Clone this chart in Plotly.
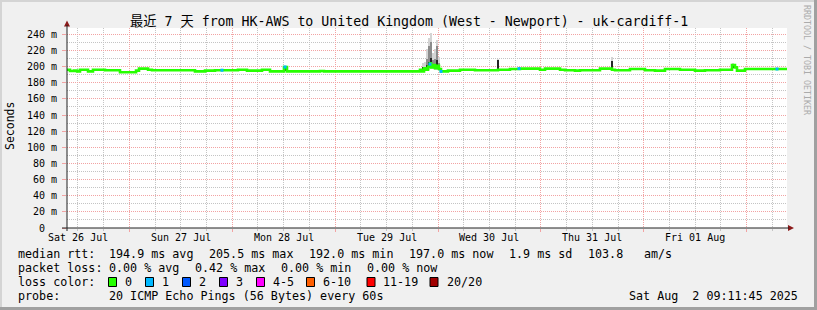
import plotly.graph_objects as go
import pandas as pd

# ---------------- data ----------------
START = pd.Timestamp("2025-07-26 09:28:00")
END = pd.Timestamp("2025-08-02 09:24:00")

# median RTT (ms) as steps: hours after START, value
median_hours = [0, 0.7, 1.63, 2.33, 3.03, 4.9, 6.06, 8.86, 12.36, 16.1, 16.79, 18.9, 19.83,
                29.85, 32.19, 34.52, 39.88, 41.98, 45.48, 47.35, 50.61, 51.31, 59.0, 59.94,
                82.33, 82.8, 83.27, 83.73, 84.2, 84.66, 84.9, 85.36, 85.83, 86.3, 86.76, 87.23,
                88.86, 91.66, 95.16, 100.52, 103.32, 105.66, 110.32, 111.49, 114.99, 116.15,
                118.48, 119.65, 124.31, 127.11, 127.81, 131.31, 134.81, 137.14, 139.47, 142.97,
                146.47, 148.8, 152.3, 155.1, 155.8, 156.27, 158.13, 167.93]
median_ms = [196, 194.5, 195, 194, 196, 194, 196, 195.5, 193, 195, 197.5, 196, 195.5,
             194, 195, 195.5, 196, 195, 196, 194, 199.5, 194, 194.5, 194,
             196, 194, 198, 196, 200, 204, 199, 202, 198, 201, 197, 194,
             195, 196, 195.5, 196, 197, 197.5, 196, 197.5, 196, 195.5,
             195, 195.5, 197.5, 196, 195.5, 197, 195.5, 195, 197, 196,
             195, 195.5, 196, 202, 199, 195, 197, 197]

# smoke (spread of the 20 pings), three shade layers: hours, low, high
smoke_light_hours = [83.03, 83.5, 83.97, 84.43, 84.9, 85.36, 85.83, 86.3, 86.76, 100.52, 127.11, 155.33]
smoke_light_lo = [195, 195, 196, 196, 197, 197, 196, 196, 195, 195, 197, 197]
smoke_light_hi = [205, 206, 222, 235, 241, 217, 222, 233, 212, 210, 212, 205]

smoke_mid_hours = [83.97, 84.43, 84.9, 85.36, 85.83, 86.3, 86.76]
smoke_mid_lo = [197, 198, 199, 199, 198, 198, 196]
smoke_mid_hi = [210, 225, 230, 208, 210, 225, 204]

smoke_dark_hours = [50.85, 83.03, 83.97, 84.43, 84.9, 85.36, 85.83, 86.3, 86.76, 100.52, 127.11, 155.33]
smoke_dark_lo = [194, 196, 197, 198, 199, 199, 198, 198, 196, 195, 196, 198]
smoke_dark_hi = [200, 199, 202, 206, 211, 203, 203, 208, 200, 208, 207, 202]

# points where 1 of 20 pings was lost
loss1_hours = [36.15, 50.85, 84.66, 87.23, 105.42, 165.6]
loss1_ms = [195.5, 199.5, 203, 194, 197.5, 197]

# axis labels
y_tick_vals = [0, 20, 40, 60, 80, 100, 120, 140, 160, 180, 200, 220, 240]
y_tick_text = ["0\u00a0\u00a0", "20 m", "40 m", "60 m", "80 m", "100 m", "120 m", "140 m",
               "160 m", "180 m", "200 m", "220 m", "240 m"]
day_label_times = ["2025-07-26 12:00", "2025-07-27 12:00", "2025-07-28 12:00", "2025-07-29 12:00",
                   "2025-07-30 12:00", "2025-07-31 12:00", "2025-08-01 12:00"]
day_labels = ["Sat 26 Jul", "Sun 27 Jul", "Mon 28 Jul", "Tue 29 Jul", "Wed 30 Jul", "Thu 31 Jul", "Fri 01 Aug"]

title_text = "最近 7 天 from HK-AWS to United Kingdom (West - Newport) - uk-cardiff-1"
rtt_stats = ["194.9 ms avg", "205.5 ms max", "192.0 ms min", "197.0 ms now", "1.9 ms sd", "103.8", "am/s"]
loss_stats = ["0.00 % avg", "0.42 % max", "0.00 % min", "0.00 % now"]
loss_labels = ["0", "1", "2", "3", "4-5", "6-10", "11-19", "20/20"]
loss_colors = ["#26ff00", "#00b8ff", "#0059ff", "#7e00ff", "#ff00ff", "#ff5e00", "#ff0000", "#a10000"]
probe_text = "20 ICMP Echo Pings (56 Bytes) every 60s"
stamp_text = "Sat Aug\u00a0\u00a02 09:11:45 2025"

# ---------------- helpers ----------------
W, H = 817, 310
PL, PR, PT, PB = 67, 787, 28, 228


def px(p):
    return (p - PL) / (PR - PL)


def py(p):
    return (PB - p) / (PB - PT)


def to_time(hours):
    return [START + pd.Timedelta(hours=h) for h in hours]


MONO = "DejaVu Sans Mono"
BAR_W = 14 * 60 * 1000 * 1.6

fig = go.Figure()


def smoke(hours, lo, hi, color):
    fig.add_trace(go.Bar(x=to_time(hours), y=[h - l for h, l in zip(hi, lo)], base=lo,
                         width=BAR_W, marker=dict(color=color, line=dict(width=0)),
                         showlegend=False, hoverinfo="skip"))


smoke(smoke_light_hours, smoke_light_lo, smoke_light_hi, "#d4d4d4")
smoke(smoke_mid_hours, smoke_mid_lo, smoke_mid_hi, "#8c8c8c")
smoke(smoke_dark_hours, smoke_dark_lo, smoke_dark_hi, "#262626")

fig.add_trace(go.Scatter(x=to_time(median_hours), y=median_ms, mode="lines",
                         line=dict(color="#26ff00", width=2.6, shape="hv"),
                         showlegend=False, hoverinfo="skip"))
fig.add_trace(go.Scatter(x=to_time(loss1_hours), y=loss1_ms, mode="markers",
                         marker=dict(color="#00b8ff", size=3, symbol="square", line=dict(width=0)),
                         showlegend=False, hoverinfo="skip"))

MGRID = "#f2a3a3"
GRID = "#c4c4c4"
fig.update_layout(
    width=W, height=H, autosize=False,
    margin=dict(l=PL, r=W - PR, t=PT, b=H - PB, pad=0),
    paper_bgcolor="#f0f0f0", plot_bgcolor="#ffffff",
    barmode="overlay", bargap=0,
    font=dict(family=MONO, size=10, color="#000000"),
    xaxis=dict(type="date", range=[START, END], showline=False, zeroline=False,
               tick0="2025-07-27", dtick=86400000, showticklabels=False,
               ticks="outside", ticklen=3, tickcolor=MGRID,
               showgrid=True, gridcolor=MGRID, griddash="1px,1px", gridwidth=1,
               minor=dict(tick0="2025-07-27", dtick=21600000, showgrid=True,
                          gridcolor=GRID, griddash="1px,1px", gridwidth=1,
                          ticks="outside", ticklen=2, tickcolor=GRID)),
    yaxis=dict(range=[0, 247.8], showline=False, zeroline=False,
               tickmode="array", tickvals=y_tick_vals, ticktext=y_tick_text,
               ticks="outside", ticklen=4, tickcolor=MGRID, ticklabelstandoff=3,
               tickfont=dict(family=MONO, size=10),
               showgrid=True, gridcolor=MGRID, griddash="1px,1px", gridwidth=1,
               minor=dict(dtick=10, showgrid=True, gridcolor=GRID, griddash="1px,1px", gridwidth=1)),
)

shapes = []
# frame shading
shapes.append(dict(type="rect", xref="paper", yref="paper", x0=px(0), x1=px(W), y0=py(0), y1=py(2),
                   fillcolor="#d4d4d4", line=dict(width=0), layer="below"))
shapes.append(dict(type="rect", xref="paper", yref="paper", x0=px(0), x1=px(2), y0=py(0), y1=py(H),
                   fillcolor="#d4d4d4", line=dict(width=0), layer="below"))
shapes.append(dict(type="rect", xref="paper", yref="paper", x0=px(0), x1=px(W), y0=py(H - 3), y1=py(H),
                   fillcolor="#a0a0a0", line=dict(width=0), layer="below"))
shapes.append(dict(type="rect", xref="paper", yref="paper", x0=px(W - 3), x1=px(W), y0=py(0), y1=py(H),
                   fillcolor="#a0a0a0", line=dict(width=0), layer="below"))
# axes lines
shapes.append(dict(type="line", xref="paper", yref="paper", x0=px(62), x1=px(789), y0=py(228), y1=py(228),
                   line=dict(color="#202020", width=1)))
shapes.append(dict(type="line", xref="paper", yref="paper", x0=px(67), x1=px(67), y0=py(231), y1=py(25),
                   line=dict(color="#202020", width=1)))
# arrows
fig.add_shape(type="path", xref="paper", yref="paper",
              path=f"M {px(64)} {py(26.5)} L {px(70)} {py(26.5)} L {px(67)} {py(20.5)} Z",
              fillcolor="#8b1a1a", line=dict(width=0))
fig.add_shape(type="path", xref="paper", yref="paper",
              path=f"M {px(788)} {py(225)} L {px(788)} {py(231)} L {px(794)} {py(228)} Z",
              fillcolor="#8b1a1a", line=dict(width=0))
# loss colour swatches
swatch_x = [108.5, 145.5, 182.5, 219.5, 256.5, 306.5, 367, 430]
for sx, col in zip(swatch_x, loss_colors):
    shapes.append(dict(type="rect", xref="paper", yref="paper", x0=px(sx), x1=px(sx + 8),
                       y0=py(277.5), y1=py(286.5), fillcolor=col, line=dict(color="#000000", width=1)))
for s in shapes:
    fig.add_shape(**s)

ann = []


def text(x, y, t, size=11.7, anchor="left", color="#000000", angle=0, xref="paper"):
    ann.append(dict(x=px(x) if xref == "paper" else x, y=py(y), xref=xref, yref="paper", text=t,
                    showarrow=False, xanchor=anchor, yanchor="middle", textangle=angle,
                    font=dict(family=MONO + ", Noto Sans CJK SC", size=size, color=color)))


text(408.5, 21, title_text, size=13.25, anchor="center")
text(10, 126, "Seconds", size=11.5, anchor="center", angle=-90)
text(807, 60, "RRDTOOL / TOBI OETIKER", size=8.3, anchor="center", color="#ababab", angle=90)
for t, lab in zip(day_label_times, day_labels):
    text(pd.Timestamp(t), 237.5, lab, size=10, anchor="center", xref="x")

text(16, 254, "median rtt:")
for x, s in zip([107, 207, 307, 407, 507, 586, 642], rtt_stats):
    text(x, 254, s)
text(16, 268, "packet loss:")
for x, s in zip([107, 193, 279, 365], loss_stats):
    text(x, 268, s)
text(16, 282, "loss color:")
for x, s in zip([123, 160, 197, 234, 271, 321, 381, 445], loss_labels):
    text(x, 282, s)
text(16, 296, "probe:")
text(107, 296, probe_text)
text(800, 296, stamp_text, anchor="right")

fig.update_layout(annotations=ann)
fig.write_html("out.html")
